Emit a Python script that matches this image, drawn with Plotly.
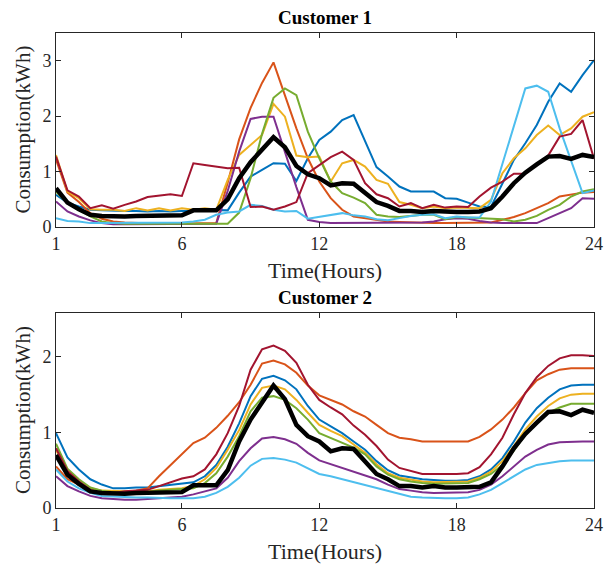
import plotly.graph_objects as go

# Half-hourly samples (48 per day); ticks every 6 hours
idx = list(range(1, 49))
tick_vals = [1, 12, 24, 36, 48]
tick_text = ["1", "6", "12", "18", "24"]

# Customer 1 daily profiles (kWh)
c1_blue = [0.58, 0.44, 0.37, 0.31, 0.30, 0.29, 0.29, 0.29, 0.28, 0.29, 0.28, 0.29, 0.29, 0.31, 0.31, 0.30,
           0.62, 0.91, 1.03, 1.15, 1.14, 0.83, 1.24, 1.57, 1.72, 1.93, 2.02, 1.54, 1.08, 0.91, 0.73, 0.64,
           0.64, 0.64, 0.52, 0.51, 0.44, 0.37, 0.36, 0.78, 1.21, 1.51, 1.84, 2.26, 2.59, 2.44, 2.74, 3.01]
c1_orange = [1.22, 0.62, 0.45, 0.25, 0.15, 0.10, 0.08, 0.07, 0.06, 0.06, 0.06, 0.06, 0.06, 0.06, 0.07, 0.80,
             1.58, 2.15, 2.60, 2.97, 2.38, 1.78, 1.24, 0.82, 0.52, 0.31, 0.19, 0.16, 0.13, 0.10, 0.09, 0.08,
             0.07, 0.07, 0.07, 0.07, 0.07, 0.07, 0.08, 0.13, 0.18, 0.25, 0.34, 0.43, 0.55, 0.58, 0.62, 0.63]
c1_yellow = [1.30, 0.64, 0.52, 0.32, 0.31, 0.31, 0.29, 0.34, 0.30, 0.34, 0.30, 0.34, 0.31, 0.34, 0.31, 0.85,
             1.30, 1.48, 1.66, 2.22, 1.99, 1.29, 1.26, 1.27, 0.82, 1.15, 1.21, 1.09, 0.85, 0.78, 0.45, 0.40,
             0.34, 0.37, 0.34, 0.35, 0.34, 0.34, 0.49, 0.97, 1.24, 1.42, 1.66, 1.83, 1.66, 1.78, 1.99, 2.07]
c1_purple = [0.46, 0.28, 0.19, 0.12, 0.07, 0.05, 0.05, 0.05, 0.05, 0.05, 0.05, 0.05, 0.05, 0.05, 0.06, 0.65,
             1.36, 1.95, 1.99, 1.99, 1.35, 0.72, 0.13, 0.09, 0.07, 0.07, 0.07, 0.07, 0.07, 0.07, 0.07, 0.08,
             0.08, 0.10, 0.14, 0.16, 0.15, 0.11, 0.08, 0.07, 0.07, 0.07, 0.07, 0.16, 0.25, 0.34, 0.52, 0.51]
c1_green = [0.64, 0.43, 0.31, 0.19, 0.10, 0.07, 0.06, 0.06, 0.06, 0.06, 0.06, 0.06, 0.06, 0.06, 0.06, 0.06,
            0.26, 0.88, 1.68, 2.33, 2.50, 2.38, 1.72, 1.24, 0.82, 0.61, 0.53, 0.43, 0.22, 0.19, 0.18, 0.20,
            0.22, 0.22, 0.14, 0.18, 0.17, 0.16, 0.15, 0.14, 0.10, 0.13, 0.20, 0.31, 0.40, 0.55, 0.64, 0.68]
c1_cyan = [0.16, 0.11, 0.10, 0.07, 0.07, 0.07, 0.07, 0.07, 0.07, 0.07, 0.07, 0.08, 0.10, 0.13, 0.22, 0.26,
           0.28, 0.40, 0.38, 0.31, 0.28, 0.29, 0.15, 0.18, 0.22, 0.25, 0.21, 0.19, 0.14, 0.12, 0.16, 0.20,
           0.22, 0.23, 0.16, 0.19, 0.17, 0.17, 0.46, 1.15, 1.85, 2.50, 2.55, 2.44, 1.78, 1.18, 0.61, 0.66]
c1_red = [1.27, 0.66, 0.55, 0.34, 0.39, 0.33, 0.40, 0.46, 0.54, 0.57, 0.59, 0.56, 1.15, 1.12, 1.09, 1.06,
          1.07, 0.36, 0.37, 0.31, 0.37, 0.45, 0.97, 1.12, 1.26, 1.36, 1.21, 0.79, 0.59, 0.52, 0.37, 0.43,
          0.34, 0.40, 0.35, 0.37, 0.36, 0.55, 0.71, 0.82, 0.96, 0.96, 1.12, 1.29, 1.63, 1.68, 1.93, 1.23]

# Customer 2 daily profiles (kWh)
c2_blue = [0.99, 0.67, 0.51, 0.38, 0.31, 0.26, 0.26, 0.27, 0.27, 0.29, 0.31, 0.32, 0.34, 0.42, 0.57, 0.81,
           1.12, 1.48, 1.71, 1.75, 1.69, 1.57, 1.35, 1.17, 1.08, 0.99, 0.88, 0.77, 0.62, 0.50, 0.43, 0.40,
           0.38, 0.37, 0.36, 0.36, 0.37, 0.42, 0.51, 0.66, 0.88, 1.13, 1.32, 1.46, 1.57, 1.62, 1.63, 1.63]
c2_orange = [0.55, 0.38, 0.31, 0.23, 0.21, 0.21, 0.21, 0.23, 0.26, 0.42, 0.57, 0.71, 0.86, 0.93, 1.06, 1.22,
             1.40, 1.63, 1.91, 1.95, 1.90, 1.79, 1.62, 1.49, 1.43, 1.37, 1.28, 1.21, 1.10, 0.99, 0.93, 0.91,
             0.88, 0.88, 0.87, 0.87, 0.88, 0.94, 1.04, 1.17, 1.33, 1.52, 1.69, 1.77, 1.83, 1.85, 1.85, 1.85]
c2_yellow = [0.77, 0.49, 0.35, 0.26, 0.23, 0.22, 0.22, 0.22, 0.22, 0.24, 0.25, 0.26, 0.29, 0.38, 0.53, 0.77,
             1.03, 1.37, 1.59, 1.62, 1.57, 1.43, 1.26, 1.10, 1.02, 0.95, 0.84, 0.73, 0.58, 0.46, 0.40, 0.37,
             0.35, 0.34, 0.34, 0.34, 0.35, 0.40, 0.48, 0.62, 0.82, 1.04, 1.21, 1.35, 1.45, 1.50, 1.51, 1.51]
c2_purple = [0.42, 0.29, 0.22, 0.16, 0.13, 0.12, 0.11, 0.11, 0.12, 0.13, 0.14, 0.15, 0.18, 0.22, 0.26, 0.40,
             0.62, 0.79, 0.92, 0.94, 0.91, 0.85, 0.73, 0.63, 0.58, 0.54, 0.49, 0.43, 0.38, 0.31, 0.25, 0.23,
             0.21, 0.20, 0.20, 0.20, 0.21, 0.24, 0.31, 0.42, 0.55, 0.68, 0.77, 0.84, 0.87, 0.88, 0.88, 0.88]
c2_green = [0.85, 0.52, 0.38, 0.27, 0.23, 0.21, 0.21, 0.21, 0.21, 0.23, 0.24, 0.25, 0.26, 0.33, 0.46, 0.68,
            0.95, 1.28, 1.46, 1.48, 1.43, 1.32, 1.17, 0.99, 0.93, 0.86, 0.80, 0.71, 0.55, 0.44, 0.38, 0.35,
            0.33, 0.32, 0.32, 0.32, 0.33, 0.38, 0.45, 0.57, 0.76, 0.97, 1.13, 1.26, 1.33, 1.38, 1.38, 1.38]
c2_cyan = [0.51, 0.35, 0.26, 0.20, 0.16, 0.15, 0.15, 0.14, 0.14, 0.13, 0.13, 0.13, 0.13, 0.15, 0.20, 0.28,
           0.40, 0.56, 0.65, 0.66, 0.64, 0.60, 0.52, 0.45, 0.42, 0.38, 0.34, 0.31, 0.26, 0.22, 0.18, 0.15,
           0.14, 0.13, 0.13, 0.13, 0.14, 0.18, 0.24, 0.33, 0.42, 0.51, 0.57, 0.60, 0.62, 0.63, 0.63, 0.63]
c2_red = [0.79, 0.49, 0.35, 0.24, 0.20, 0.20, 0.22, 0.23, 0.24, 0.29, 0.34, 0.39, 0.42, 0.51, 0.71, 0.99,
          1.35, 1.83, 2.10, 2.15, 2.08, 1.92, 1.63, 1.43, 1.33, 1.24, 1.09, 0.97, 0.82, 0.64, 0.53, 0.49,
          0.45, 0.45, 0.45, 0.45, 0.46, 0.54, 0.71, 0.93, 1.24, 1.52, 1.73, 1.88, 1.98, 2.02, 2.02, 2.01]

# Common reference profile (thick black) shown in both panels
mean_profile = [0.70, 0.44, 0.32, 0.22, 0.20, 0.19, 0.19, 0.20, 0.20, 0.21, 0.21, 0.21, 0.30, 0.30, 0.30, 0.50,
                0.88, 1.17, 1.40, 1.62, 1.44, 1.10, 0.95, 0.88, 0.75, 0.79, 0.78, 0.62, 0.45, 0.38, 0.29, 0.29,
                0.27, 0.29, 0.27, 0.27, 0.27, 0.28, 0.34, 0.55, 0.79, 0.98, 1.13, 1.27, 1.28, 1.23, 1.30, 1.26]

colors = ["#0072BD", "#D95319", "#EDB120", "#7E2F8E", "#77AC30", "#4DBEEE", "#A2142F"]
customer1 = [c1_blue, c1_orange, c1_yellow, c1_purple, c1_green, c1_cyan, c1_red]
customer2 = [c2_blue, c2_orange, c2_yellow, c2_purple, c2_green, c2_cyan, c2_red]

fig = go.Figure()
for series, col in zip(customer1, colors):
    fig.add_trace(go.Scatter(x=idx, y=series, mode="lines", line=dict(color=col, width=2),
                             xaxis="x", yaxis="y", showlegend=False))
fig.add_trace(go.Scatter(x=idx, y=mean_profile, mode="lines", line=dict(color="black", width=4.5),
                         xaxis="x", yaxis="y", showlegend=False))
for series, col in zip(customer2, colors):
    fig.add_trace(go.Scatter(x=idx, y=series, mode="lines", line=dict(color=col, width=2),
                             xaxis="x2", yaxis="y2", showlegend=False))
fig.add_trace(go.Scatter(x=idx, y=mean_profile, mode="lines", line=dict(color="black", width=4.5),
                         xaxis="x2", yaxis="y2", showlegend=False))

FONT = "Liberation Serif, Times New Roman, serif"
AX = "#262626"

W, H = 615, 567
L, R, T, B = 56, 603, 33, 508
ph = B - T


def py(pix):
    return (B - pix) / ph


def px(pix):
    return (pix - L) / (R - L)


common_x = dict(range=[1, 48], tickvals=tick_vals, ticktext=tick_text, ticks="inside", ticklen=5,
                tickcolor=AX, showline=True, linecolor=AX, linewidth=1, mirror="ticks",
                showgrid=False, zeroline=False, tickfont=dict(family=FONT, size=18, color=AX))
common_y = dict(ticks="inside", ticklen=5, tickcolor=AX, showline=True, linecolor=AX, linewidth=1,
                mirror="ticks", showgrid=False, zeroline=False,
                tickfont=dict(family=FONT, size=18, color=AX))

fig.update_layout(
    width=W, height=H,
    margin=dict(l=L, r=W - R, t=T, b=H - B),
    paper_bgcolor="white", plot_bgcolor="white",
    xaxis=dict(domain=[0, 1], anchor="y", **common_x),
    yaxis=dict(domain=[py(227), 1], anchor="x", range=[0, 3.5], tickvals=[0, 1, 2, 3], **common_y),
    xaxis2=dict(domain=[0, 1], anchor="y2", **common_x),
    yaxis2=dict(domain=[0, py(313)], anchor="x2", range=[0, 2.58], tickvals=[0, 1, 2], **common_y),
)

ann = []
for title, ty in [("Customer 1", 17), ("Customer 2", 297)]:
    ann.append(dict(text=f"<b>{title}</b>", x=0.5, y=py(ty), xref="paper", yref="paper",
                    xanchor="center", yanchor="middle", showarrow=False,
                    font=dict(family=FONT, size=19, color="black")))
for ty in [270, 551]:
    ann.append(dict(text="Time(Hours)", x=0.5, y=py(ty), xref="paper", yref="paper",
                    xanchor="center", yanchor="middle", showarrow=False,
                    font=dict(family=FONT, size=22, color=AX)))
for ty in [(T + 227) / 2, (313 + B) / 2]:
    ann.append(dict(text="Consumption(kWh)", x=px(22), y=py(ty), xref="paper", yref="paper",
                    xanchor="center", yanchor="middle", textangle=-90, showarrow=False,
                    font=dict(family=FONT, size=21, color=AX)))
fig.update_layout(annotations=ann)

fig.write_html("out.html")
